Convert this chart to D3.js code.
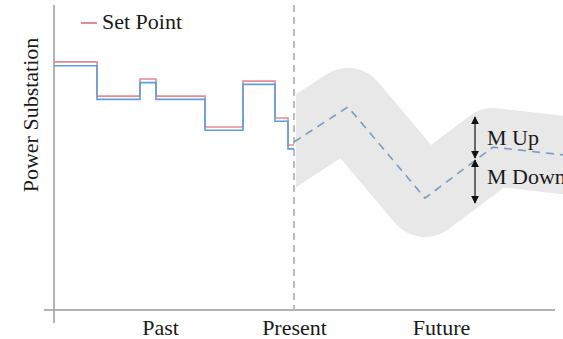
<!DOCTYPE html>
<html>
<head>
<meta charset="utf-8">
<script src="https://cdn.jsdelivr.net/npm/d3@7"></script>
<style>
  html, body { margin: 0; padding: 0; background: #fff; }
  svg text { font-family: "Liberation Serif", "Times New Roman", Times, serif; fill: #1a1a1a; }
</style>
</head>
<body>
<svg id="chart" width="563" height="339"></svg>
<script>
// ---- data ----
const stepTimes     = [-48, -39.4, -30.8, -27.6, -17.8, -10.2, -3.8, -1.2, 0];
const setPoint      = [82.7, 71.3, 77.0, 71.3, 61.0, 76.3, 64.0, 55.0];
const actualPower   = [81.4, 70.2, 75.8, 70.2, 59.9, 75.2, 62.9, 53.7];
const forecastTimes = [0, 10.8, 26.2, 39.8, 53.8];
const forecastVals  = [56.0, 67.7, 37.3, 54.3, 51.7];
const tickValues    = [-26.8, 0, 29.4];
const tickLabels    = ["Past", "Present", "Future"];
const marginTime    = 36.2;
const mUp           = [64.3, 50.7];
const mDown         = [50.0, 35.7];
const presentTime   = 0;

// ---- layout ----
const FONT = '"Liberation Serif", "Times New Roman", Times, serif';
const FS = "22px";
const svg = d3.select("#chart");
const x = d3.scaleLinear().domain([-48, 53.8]).range([54, 563]);
const y = d3.scaleLinear().domain([0, 100]).range([310, 10]);

const stepData = (vals) => {
  const pts = vals.map((v, i) => [stepTimes[i], v]);
  pts.push([stepTimes[stepTimes.length - 1], vals[vals.length - 1]]);
  return pts;
};

const defs = svg.append("defs");
defs.append("clipPath").attr("id", "futureClip")
  .append("rect").attr("x", x(presentTime) + 2).attr("y", 0).attr("width", 563).attr("height", 339);

const fLine = d3.line().x(d => x(d[0])).y(d => y(d[1]));
const fData = forecastTimes.map((t, i) => [t, forecastVals[i]]);

// uncertainty band
svg.append("path")
  .attr("d", fLine(fData))
  .attr("clip-path", "url(#futureClip)")
  .attr("fill", "none")
  .attr("stroke", "#e8e8e8")
  .attr("stroke-width", 78)
  .attr("stroke-linejoin", "round")
  .attr("stroke-linecap", "square");

// axes
svg.append("line").attr("x1", 54).attr("x2", 54).attr("y1", 5).attr("y2", 323)
  .attr("stroke", "#9a9a9a").attr("stroke-width", 1.5);
svg.append("line").attr("x1", 44).attr("x2", 555).attr("y1", y(0)).attr("y2", y(0))
  .attr("stroke", "#9a9a9a").attr("stroke-width", 1.5);

const xAxis = d3.axisBottom(x).tickValues(tickValues)
  .tickFormat((d, i) => tickLabels[i]).tickSize(0).tickPadding(0);
const gx = svg.append("g").attr("transform", `translate(0,${y(0)})`).call(xAxis);
gx.attr("font-family", FONT).attr("font-size", 22);
gx.select(".domain").remove();
gx.selectAll("text")
  .style("font-family", FONT)
  .style("font-size", FS)
  .attr("fill", "#1a1a1a")
  .attr("dy", null)
  .attr("y", 25);

// present dashed line
svg.append("line").attr("x1", x(presentTime)).attr("x2", x(presentTime))
  .attr("y1", 5).attr("y2", y(0))
  .attr("stroke", "#a8a8a8").attr("stroke-width", 1.5)
  .attr("stroke-dasharray", "7,5");

// step lines
const stepLine = d3.line().x(d => x(d[0])).y(d => y(d[1])).curve(d3.curveStepAfter);
svg.append("path").attr("d", stepLine(stepData(setPoint)))
  .attr("fill", "none").attr("stroke", "#e58a90").attr("stroke-width", 1.6);
svg.append("path").attr("d", stepLine(stepData(actualPower)))
  .attr("fill", "none").attr("stroke", "#5d9fd8").attr("stroke-width", 1.6);

// forecast dashed line
svg.append("path").attr("d", fLine(fData))
  .attr("fill", "none").attr("stroke", "#7a9cc4").attr("stroke-width", 1.6)
  .attr("stroke-dasharray", "8,6");

// arrows
defs.append("marker").attr("id", "ah").attr("viewBox", "0 0 10 10")
  .attr("refX", 9).attr("refY", 5).attr("markerWidth", 8).attr("markerHeight", 8)
  .attr("markerUnits", "userSpaceOnUse").attr("orient", "auto-start-reverse")
  .append("path").attr("d", "M0,0 L10,5 L0,10 Z").attr("fill", "#111");

[mUp, mDown].forEach(r => {
  svg.append("line")
    .attr("x1", x(marginTime)).attr("x2", x(marginTime))
    .attr("y1", y(r[0])).attr("y2", y(r[1]))
    .attr("stroke", "#111").attr("stroke-width", 1.2)
    .attr("marker-start", "url(#ah)").attr("marker-end", "url(#ah)");
});

const addText = (sel) => sel.style("font-family", FONT).style("font-size", FS);

addText(svg.append("text").attr("x", x(marginTime) + 12).attr("y", 145).text("M Up"));
addText(svg.append("text").attr("x", x(marginTime) + 12).attr("y", 184).text("M Down"));

// legend
svg.append("line").attr("x1", 81).attr("x2", 97).attr("y1", 23).attr("y2", 23)
  .attr("stroke", "#e58a90").attr("stroke-width", 2);
addText(svg.append("text").attr("x", 102).attr("y", 29).text("Set Point"));

// y label
addText(svg.append("text")
  .attr("transform", "translate(38,115) rotate(-90)")
  .attr("text-anchor", "middle")
  .text("Power Substation"));
</script>
</body>
</html>
